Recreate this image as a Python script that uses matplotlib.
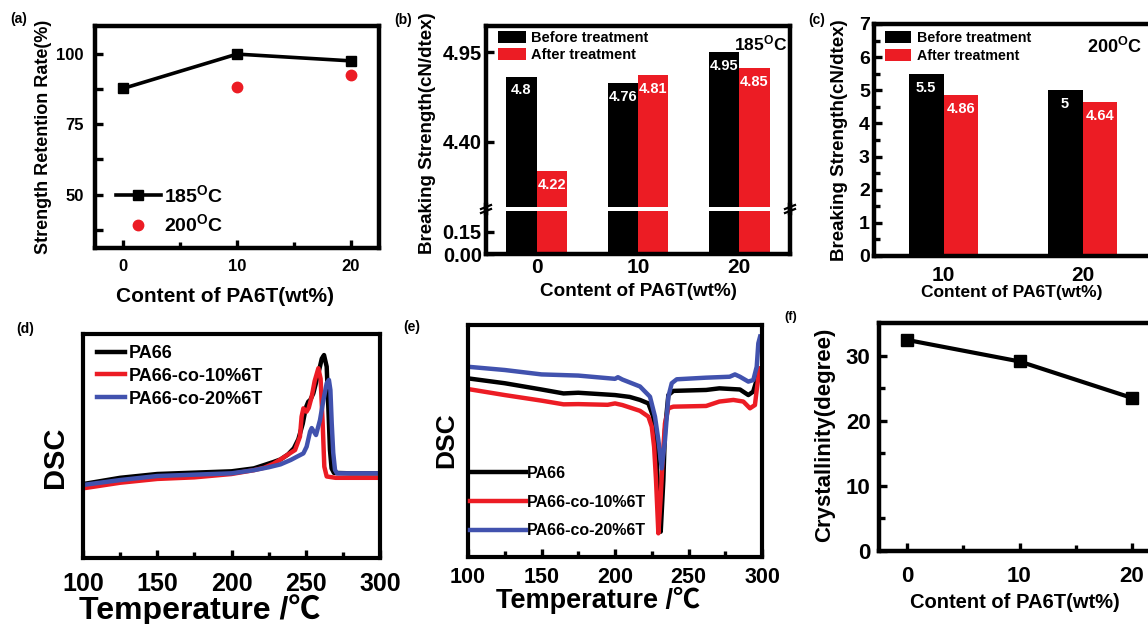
import numpy as np
import matplotlib
matplotlib.use("Agg")
import matplotlib.pyplot as plt
from matplotlib.lines import Line2D

plt.rcParams['font.family'] = ['Liberation Sans', 'Noto Sans CJK SC', 'DejaVu Sans']
plt.rcParams['font.weight'] = 'bold'
plt.rcParams['mathtext.fontset'] = 'custom'
plt.rcParams['mathtext.rm'] = 'Liberation Sans:bold'
plt.rcParams['mathtext.it'] = 'Liberation Sans:bold'
plt.rcParams['mathtext.bf'] = 'Liberation Sans:bold'

# ---------------- data ----------------
content = [0, 10, 20]
retention_185 = [87.8, 100.0, 97.6]
content_200 = [10, 20]
retention_200 = [88.2, 92.5]

b_groups = ['0', '10', '20']
b_before = [4.8, 4.76, 4.95]
b_after = [4.22, 4.81, 4.85]

c_groups = ['10', '20']
c_before = [5.5, 5]
c_after = [4.86, 4.64]

d_T_pa66 = [100, 125, 150, 175, 200, 215, 222, 228, 233, 238, 242, 245, 248, 250, 251.7, 253,
            255.1, 258.5, 260.8, 262.3, 264.1, 265.2, 266.3, 267.4, 269, 280, 300]
d_v_pa66 = [0.330, 0.358, 0.375, 0.381, 0.387, 0.400, 0.415, 0.428, 0.440, 0.462, 0.490, 0.530,
            0.600, 0.670, 0.698, 0.705, 0.735, 0.824, 0.890, 0.906, 0.854, 0.675, 0.482, 0.400,
            0.380, 0.378, 0.378]
d_T_10 = [100, 125, 150, 175, 200, 215, 222, 228, 233, 238, 242.8, 246.1, 247.2, 248.4, 250.5,
          252, 254, 256, 258.5, 260, 261.4, 262.5, 264.1, 270, 300]
d_v_10 = [0.311, 0.336, 0.353, 0.360, 0.375, 0.392, 0.403, 0.420, 0.440, 0.462, 0.482, 0.542,
          0.631, 0.668, 0.653, 0.670, 0.720, 0.790, 0.847, 0.800, 0.601, 0.408, 0.364, 0.358, 0.358]
d_T_20 = [100, 125, 150, 175, 200, 215, 225, 233, 240, 244, 248.4, 250.6, 252.9, 254, 256.9,
          259.6, 261.9, 264.1, 265.6, 266.6, 267.5, 268.5, 269.7, 271, 300]
d_v_20 = [0.326, 0.348, 0.366, 0.372, 0.378, 0.392, 0.405, 0.418, 0.438, 0.452, 0.467, 0.497,
          0.564, 0.580, 0.549, 0.616, 0.705, 0.780, 0.795, 0.750, 0.600, 0.470, 0.393, 0.378, 0.378]

e_T_pa66 = [100, 125, 150, 165, 175, 200, 210, 217, 222.7, 226, 227.9, 229.5, 231.1, 232.9, 234,
            236.3, 239.7, 262, 271, 285, 290.7, 294, 296.4, 298.2, 299.5]
e_v_pa66 = [0.770, 0.749, 0.722, 0.705, 0.708, 0.698, 0.690, 0.677, 0.662, 0.605, 0.475, 0.260,
            0.109, 0.332, 0.547, 0.698, 0.716, 0.720, 0.727, 0.722, 0.698, 0.713, 0.763, 0.806, 0.815]
e_T_10 = [100, 125, 150, 165, 175, 195, 200, 205, 217, 222.7, 225, 226.6, 227.9, 229.5, 231.1,
          232.5, 234, 236.3, 239.7, 262, 271, 280.5, 287.3, 291.8, 295.2, 296.4, 298.3]
e_v_10 = [0.724, 0.698, 0.674, 0.658, 0.659, 0.656, 0.662, 0.655, 0.630, 0.605, 0.562, 0.475,
          0.332, 0.102, 0.260, 0.433, 0.576, 0.641, 0.648, 0.651, 0.670, 0.677, 0.670, 0.641,
          0.655, 0.720, 0.813]
e_T_20 = [100, 125, 150, 175, 200, 202, 205, 217, 223.8, 227.2, 229.5, 231.8, 234, 236.3, 238.6,
          242, 262, 278, 281.6, 285, 290.7, 294.1, 296.4, 297.5, 298.7]
e_v_20 = [0.820, 0.806, 0.787, 0.782, 0.768, 0.775, 0.765, 0.735, 0.691, 0.605, 0.504, 0.382,
          0.504, 0.691, 0.749, 0.766, 0.773, 0.777, 0.787, 0.777, 0.756, 0.763, 0.820, 0.921, 0.950]
dsc_labels = ['PA66', 'PA66-co-10%6T', 'PA66-co-20%6T']

f_content = [0, 10, 20]
f_cryst = [32.4, 29.1, 23.5]

RED = '#EC1C24'
BLUE = '#4152AE'

# ---------------- figure helpers ----------------
W, H = 1148, 624
fig = plt.figure(figsize=(W / 100, H / 100), dpi=100)


def add_ax(l, t, r, b):
    return fig.add_axes([l / W, 1 - b / H, (r - l) / W, (b - t) / H])


def ftext(x, y, s, **kw):
    kw.setdefault('weight', 'bold')
    return fig.text(x / W, 1 - y / H, s, **kw)


def style(ax, lw=3.2, fs=12, pad=6):
    for s in ax.spines.values():
        s.set_linewidth(lw)
    ax.tick_params(which='both', direction='in', width=2.4, top=False, right=False,
                   labelsize=fs, pad=pad)
    ax.tick_params(which='major', length=6)
    ax.tick_params(which='minor', length=4)
    for lab in ax.get_xticklabels() + ax.get_yticklabels():
        lab.set_fontweight('bold')


def figleg(ax, handles, labels, x, y, **kw):
    leg = ax.legend(handles, labels, loc='upper left', bbox_to_anchor=(x / W, 1 - y / H),
                    bbox_transform=fig.transFigure, frameon=False, borderpad=0,
                    borderaxespad=0, prop={'weight': 'bold', 'size': kw.pop('fontsize')}, **kw)
    return leg

# ---------------- (a) ----------------
ax = add_ax(95, 26, 379, 248)
ax.plot(content, retention_185, '-s', color='k', lw=2.6, ms=7)
ax.plot(content_200, retention_200, 'o', color=RED, ms=7.5, mec=RED)
ax.set_xlim(-2.5, 22.5)
ax.set_ylim(31, 110)
ax.set_xticks([0, 10, 20])
ax.set_xticks([5, 15], minor=True)
ax.set_yticks([50, 75, 100])
ax.set_yticks([37.5, 62.5, 87.5], minor=True)
style(ax, fs=12, pad=8)
ax.tick_params(axis='y', which='minor', length=6)
h1 = Line2D([], [], color='k', lw=2.6, marker='s', ms=7)
h2 = Line2D([], [], color=RED, lw=0, marker='o', ms=7.5)
figleg(ax, [h1, h2], [r'185$^{\rm O}$C', r'200$^{\rm O}$C'], 116, 184, fontsize=14,
       handlelength=2.3, handletextpad=0.15, labelspacing=0.4)
ftext(44, 137, 'Strength Retention Rate(%)', rotation=90, ha='center', va='center', fontsize=13)
ftext(225, 297, 'Content of PA6T(wt%)', ha='center', va='center', fontsize=15)
ftext(19, 19, '(a)', ha='center', va='center', fontsize=10)

# ---------------- (b) ----------------
axt = add_ax(486, 26, 790, 207)
axl = add_ax(486, 211, 790, 254)
xb = np.arange(len(b_groups))
bw = 0.3
for a_ in (axt, axl):
    bb = a_.bar(xb - bw / 2, b_before, bw, color='k')
    ba = a_.bar(xb + bw / 2, b_after, bw, color=RED)
    a_.set_xlim(-0.5, 2.5)
axt.set_ylim(4.0, 5.11)
axl.set_ylim(0, 0.29)
axt.spines['bottom'].set_visible(False)
axl.spines['top'].set_visible(False)
axt.set_xticks([])
axt.set_yticks([4.40, 4.95])
axt.set_yticklabels(['4.40', '4.95'])
axl.set_yticks([0.0, 0.15])
axl.set_yticklabels(['0.00', '0.15'])
axl.set_xticks(xb)
axl.set_xticklabels(b_groups)
style(axt, fs=14.5, pad=3)
style(axl, fs=14.5, pad=3)
axl.tick_params(axis='x', length=0, labelsize=15, pad=3)
for i in range(len(b_groups)):
    for xx, v in ((xb[i] - bw / 2, b_before[i]), (xb[i] + bw / 2, b_after[i])):
        axt.annotate(f'{v:g}', xy=(xx, v), xytext=(0, -10), textcoords='offset points',
                     ha='center', va='center', color='white', fontsize=10.5, weight='bold')
figleg(axt, [bb, ba], ['Before treatment', 'After treatment'], 498, 31, fontsize=10.5,
       handlelength=1.9, handleheight=0.9, handletextpad=0.35, labelspacing=0.2)
ftext(787, 43, r'185$^{\rm O}$C', ha='right', va='center', fontsize=12.5)
for xs in (486, 790):
    fig.add_artist(Line2D([xs / W, xs / W], [1 - 205 / H, 1 - 213 / H], color='k', lw=3.2,
                          transform=fig.transFigure))
    for dy in (-2, 2):
        fig.add_artist(Line2D([(xs - 5) / W, (xs + 5) / W],
                              [1 - (209 + dy + 2) / H, 1 - (209 + dy - 2) / H],
                              color='k', lw=1.6, transform=fig.transFigure))
ftext(428, 133, 'Breaking Strength(cN/dtex)', rotation=90, ha='center', va='center', fontsize=13.5)
ftext(639, 291, 'Content of PA6T(wt%)', ha='center', va='center', fontsize=13.6)
ftext(403, 20, '(b)', ha='center', va='center', fontsize=10)

# ---------------- (c) ----------------
ax = add_ax(874, 24, 1152, 256)
xc = np.arange(len(c_groups))
cw = 0.25
cb = ax.bar(xc - cw / 2, c_before, cw, color='k')
ca = ax.bar(xc + cw / 2, c_after, cw, color=RED)
ax.set_xlim(-0.5, 1.5)
ax.set_ylim(0, 7)
ax.set_xticks(xc)
ax.set_xticklabels(c_groups)
ax.set_yticks(np.arange(0, 8, 1))
ax.set_yticks(np.arange(0.5, 7, 1), minor=True)
style(ax, fs=14, pad=3)
ax.tick_params(axis='x', length=0, labelsize=15, pad=7)
for i in range(len(c_groups)):
    for xx, v in ((xc[i] - cw / 2, c_before[i]), (xc[i] + cw / 2, c_after[i])):
        ax.annotate(f'{v:g}', xy=(xx, v), xytext=(0, -10), textcoords='offset points',
                    ha='center', va='center', color='white', fontsize=10.5, weight='bold')
figleg(ax, [cb, ca], ['Before treatment', 'After treatment'], 885, 31, fontsize=10.3,
       handlelength=1.85, handleheight=0.9, handletextpad=0.4, labelspacing=0.25)
ftext(1142, 47, r'200$^{\rm O}$C', ha='right', va='center', fontsize=13)
ftext(840, 140, 'Breaking Strength(cN/dtex)', rotation=90, ha='center', va='center', fontsize=13.5)
ftext(1012, 292, 'Content of PA6T(wt%)', ha='center', va='center', fontsize=12.5)
ftext(817, 20, '(c)', ha='center', va='center', fontsize=10)

# ---------------- (d) ----------------
ax = add_ax(83, 334, 380, 558)
l1, = ax.plot(d_T_pa66, d_v_pa66, color='k', lw=3.2, solid_joinstyle='round')
l2, = ax.plot(d_T_10, d_v_10, color=RED, lw=3.2, solid_joinstyle='round')
l3, = ax.plot(d_T_20, d_v_20, color=BLUE, lw=3.2, solid_joinstyle='round')
ax.set_xlim(100, 300)
ax.set_ylim(0, 1)
ax.set_yticks([])
ax.set_xticks([100, 150, 200, 250, 300])
ax.set_xticks([125, 175, 225, 275], minor=True)
style(ax, lw=3.0, fs=18, pad=10)
figleg(ax, [l1, l2, l3], dsc_labels, 97, 345, fontsize=13,
       handlelength=1.55, handletextpad=0.2, labelspacing=0.32)
ftext(55, 457, 'DSC', rotation=90, ha='center', va='center', fontsize=21)
ftext(200, 610, 'Temperature /℃', ha='center', va='center', fontsize=23)
ftext(25, 329, '(d)', ha='center', va='center', fontsize=10)

# ---------------- (e) ----------------
ax = add_ax(468, 325, 762, 557)
m1, = ax.plot(e_T_pa66, e_v_pa66, color='k', lw=3.2, solid_joinstyle='round')
m2, = ax.plot(e_T_10, e_v_10, color=RED, lw=3.2, solid_joinstyle='round')
m3, = ax.plot(e_T_20, e_v_20, color=BLUE, lw=3.2, solid_joinstyle='round')
ax.set_xlim(100, 300)
ax.set_ylim(0, 1)
ax.set_yticks([])
ax.set_xticks([100, 150, 200, 250, 300])
ax.set_xticks([125, 175, 225, 275], minor=True)
style(ax, lw=3.0, fs=15.5, pad=7)
figleg(ax, [m1, m2, m3], dsc_labels, 470, 466, fontsize=11.5,
       handlelength=3.5, handletextpad=0.08, labelspacing=0.85)
ftext(446, 440, 'DSC', rotation=90, ha='center', va='center', fontsize=19)
ftext(598, 600, 'Temperature /℃', ha='center', va='center', fontsize=19.5)
ftext(412, 327, '(e)', ha='center', va='center', fontsize=10)

# ---------------- (f) ----------------
ax = add_ax(879, 323, 1160, 551)
ax.plot(f_content, f_cryst, '-s', color='k', lw=3.0, ms=8)
ax.set_xlim(-2.5, 22.5)
ax.set_ylim(0, 35)
ax.set_xticks([0, 10, 20])
ax.set_xticks([5, 15], minor=True)
ax.set_yticks([0, 10, 20, 30])
ax.set_yticks([5, 15, 25], minor=True)
style(ax, fs=16, pad=6)
ax.tick_params(axis='x', pad=11)
ftext(825, 435, 'Crystallinity(degree)', rotation=90, ha='center', va='center', fontsize=16)
ftext(1015, 603, 'Content of PA6T(wt%)', ha='center', va='center', fontsize=14.5)
ftext(791, 317, '(f)', ha='center', va='center', fontsize=9)

fig.savefig('out.png', dpi=100)
